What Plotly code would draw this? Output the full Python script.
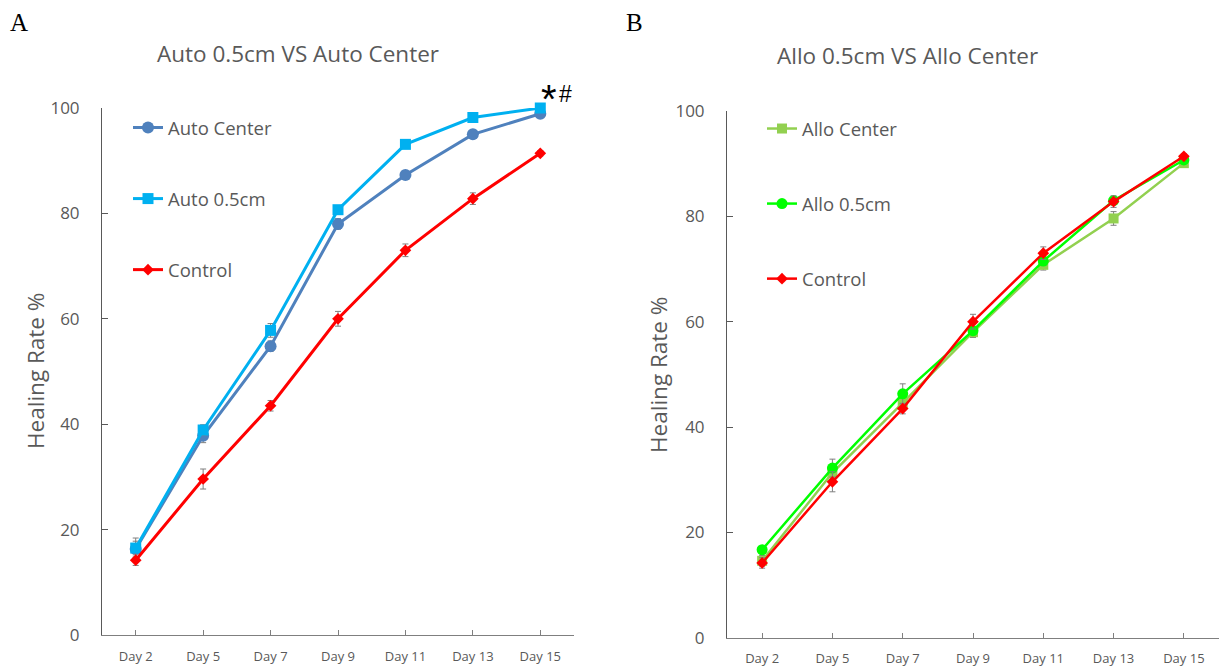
import plotly.graph_objects as go

days = ["Day 2", "Day 5", "Day 7", "Day 9", "Day 11", "Day 13", "Day 15"]
y_ticks = [0, 20, 40, 60, 80, 100]

# Panel A
auto_center = [16.3, 37.8, 54.8, 78.0, 87.3, 95.0, 98.9]
auto_center_err = [1.5, 1.3, 1.0, 1.0, 0.6, 0.6, 0.5]
auto_05 = [16.5, 38.9, 57.8, 80.7, 93.1, 98.2, 100.0]
auto_05_err = [1.9, 1.0, 1.3, 0.8, 0.6, 0.5, 0.3]
control = [14.2, 29.6, 43.5, 60.0, 73.0, 82.8, 91.4]
control_err = [1.0, 1.9, 1.0, 1.4, 1.2, 1.1, 0.5]

# Panel B
allo_center = [14.6, 31.3, 44.6, 58.0, 70.8, 79.6, 90.1]
allo_center_err = [1.0, 1.2, 1.2, 1.0, 1.0, 1.3, 0.6]
allo_05 = [16.7, 32.2, 46.3, 58.3, 71.5, 83.0, 90.7]
allo_05_err = [0.6, 1.7, 1.9, 0.8, 0.8, 0.6, 0.5]

FONT = "Open Sans"
GREY = "#595959"
W, H = 1225, 666


def px(x):
    return x / W


def py(y):
    return 1 - y / H


def trace(y, err, name, color, symbol, size, lw, xa, ya, legend):
    return go.Scatter(
        x=days, y=y, name=name, mode="lines+markers",
        line=dict(color=color, width=lw),
        marker=dict(color=color, symbol=symbol, size=size),
        error_y=dict(type="data", array=err, visible=True, color="#7f7f7f",
                     thickness=1, width=3),
        xaxis=xa, yaxis=ya, legend=legend, legendgroup=name + xa,
        cliponaxis=False,
    )


fig = go.Figure()
fig.add_trace(trace(auto_center, auto_center_err, "Auto Center", "#4F81BD", "circle", 12, 3, "x", "y", "legend"))
fig.add_trace(trace(auto_05, auto_05_err, "Auto 0.5cm", "#00B0F0", "square", 11, 3, "x", "y", "legend"))
fig.add_trace(trace(control, control_err, "Control", "#FF0000", "diamond", 9, 3, "x", "y", "legend"))
fig.add_trace(trace(allo_center, allo_center_err, "Allo Center", "#92D050", "square", 10, 2.5, "x2", "y2", "legend2"))
fig.add_trace(trace(allo_05, allo_05_err, "Allo 0.5cm", "#00FF00", "circle", 11, 2.5, "x2", "y2", "legend2"))
fig.add_trace(trace(control, control_err, "Control", "#FF0000", "diamond", 9, 2.5, "x2", "y2", "legend2"))

xaxis_common = dict(
    type="category", range=[-0.5, 6.5], showline=True, linecolor="#7f7f7f", linewidth=1,
    ticks="inside", ticklen=5, tickcolor="#7f7f7f", showgrid=False, zeroline=False,
    tickfont=dict(family=FONT, size=13, color=GREY), ticklabelstandoff=9, automargin=False,
)
yaxis_common = dict(
    range=[0, 100], tickvals=y_ticks, showline=True, linecolor="#595959", linewidth=1,
    ticks="inside", ticklen=6, tickcolor="#595959", showgrid=False, zeroline=False,
    tickfont=dict(family=FONT, size=17, color=GREY), ticklabelstandoff=18, automargin=False,
)

legend_common = dict(
    font=dict(family=FONT, size=18.5, color=GREY), bgcolor="rgba(0,0,0,0)",
    itemwidth=30, xanchor="left", yanchor="top",
)

fig.update_layout(
    width=W, height=H, margin=dict(l=0, r=0, t=0, b=0, autoexpand=False),
    paper_bgcolor="white", plot_bgcolor="white",
    xaxis=dict(domain=[px(102), px(574)], anchor="y", **xaxis_common),
    yaxis=dict(domain=[py(635), py(108)], anchor="x", **yaxis_common),
    xaxis2=dict(domain=[px(727), px(1219)], anchor="y2", **xaxis_common),
    yaxis2=dict(domain=[py(637.7), py(111)], anchor="x2", **yaxis_common),
    legend=dict(x=px(128), y=py(109), tracegroupgap=44, **legend_common),
    legend2=dict(x=px(762), y=py(110), tracegroupgap=48, **legend_common),
    showlegend=True,
)

annotations = [
    dict(text="A", x=px(19), y=py(22), font=dict(family="Liberation Serif", size=25, color="black")),
    dict(text="B", x=px(634), y=py(22), font=dict(family="Liberation Serif", size=25, color="black")),
    dict(text="Auto 0.5cm VS Auto Center", x=px(298), y=py(53), font=dict(family=FONT, size=22.5, color=GREY)),
    dict(text="Allo 0.5cm VS Allo Center", x=px(907), y=py(56), font=dict(family=FONT, size=22.5, color=GREY)),
    dict(text="Healing Rate %", x=px(35), y=py(371), textangle=-90, font=dict(family=FONT, size=22.5, color=GREY)),
    dict(text="Healing Rate %", x=px(658), y=py(375), textangle=-90, font=dict(family=FONT, size=22.5, color=GREY)),
]
for a in annotations:
    fig.add_annotation(xref="paper", yref="paper", showarrow=False, xanchor="center", yanchor="middle", **a)

fig.add_annotation(x="Day 15", y=auto_05[-1], xref="x", yref="y", showarrow=False,
                   text="*", xanchor="center", yanchor="middle", xshift=9, yshift=9,
                   font=dict(family="Liberation Sans", size=40, color="black"))
fig.add_annotation(x="Day 15", y=auto_05[-1], xref="x", yref="y", showarrow=False,
                   text="#", xanchor="center", yanchor="middle", xshift=25, yshift=14,
                   font=dict(family="Liberation Sans", size=23, color="black"))

fig.write_html("out.html", config={"displayModeBar": False},
               post_script="document.body.style.margin='0px';")
